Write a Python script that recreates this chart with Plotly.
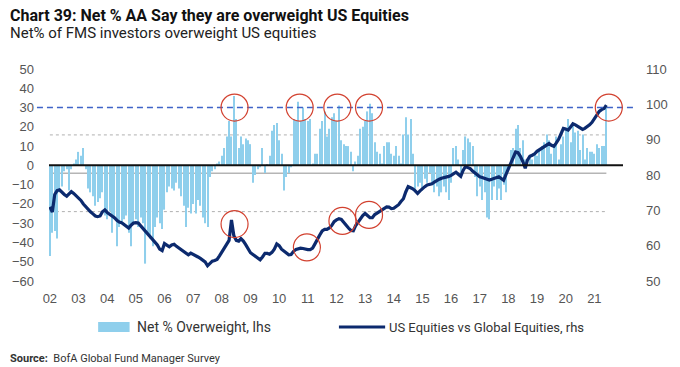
import pandas as pd
import plotly.graph_objects as go

# ---- data (monthly, Jul-2002 .. Dec-2021) ----
net_overweight = [
    -47, -35, -34, -38, -14, -11,
    -3, -2, -13, -2, 1, 3, 7, 5, 9, -2, -12, -14,
    -16, -21, -19, -17, -14, -26, -28, -24, -35, -28, -42, -32,
    -29, -28, -26, -35, -42, -30, -28, -32, -27, -30, -51, -35,
    -38, -42, -32, -27, -30, -33, -23, -14, -11, -12, -13, -9,
    -12, -16, -21, -32, -22, -25, -20, -25, -18, -21, -27, -30,
    -32, -6, -3, -2, 1, 2, 5, 9, 15, 23, 15, 36,
    24, 9, 15, 11, 14, 13, 11, -9, -5, -2, -1, 9,
    -4, 0.5, 5, 18, 21, 22, 13, 6, -13, -6, -4, -1,
    24, 23, 33, 23, 30, 24, 23, 24, 1, 6, 6, 19,
    23, 28, 15, 19, 25, 27, 23, 31, 13, 11, 10, 10,
    7, -3, 2, 5, 19, 20, 23, 28, 32, 27, 12, 7,
    6, 1, 10, 12, 12, 6, 5, 10, 5, 1, 16, 25,
    16, 24, 6, -14, -11, -9, -13, -7, -9, -4, -10, -14,
    -11, -16, -14, -11, -14, -18, -9, 9, 10, 3, -4, 8,
    15, 14, 12, 10, -6, -16, -11, -18, -14, -27, -28, -18,
    -11, -18, -12, -18, -10, -14, -2, 8, 9, 19, 21, 9,
    13, 3, 0.5, 5, 3, 6, 5, 8, 10, 12, 16, 13,
    6, 11, 15, 3, 11, 15, 19, 24, 12, 21, 17, 18,
    8, 16, 3, 9, 7, 7, 6, 11, 9, 10, 10, 31,
]

us_vs_global = [
    71.0, 69.5, 74.5, 75.6, 75.8, 75.0,
    74.5, 74.0, 74.6, 75.3, 74.8, 74.2, 73.5, 72.8, 71.8, 71.0, 70.3, 69.6,
    69.0, 68.4, 68.2, 68.4, 69.6, 70.1, 69.4, 68.9, 68.5, 67.9, 67.2, 66.7,
    66.5, 66.0, 65.4, 65.0, 65.8, 66.4, 66.5, 66.4, 65.6, 64.8, 64.2, 63.5,
    62.5, 61.6, 60.9, 60.2, 59.0, 58.6, 60.6, 60.0, 59.7, 60.2, 60.4, 59.8,
    59.3, 58.8, 58.3, 57.9, 57.4, 57.9, 57.6, 57.3, 56.8, 56.4, 55.9, 55.4,
    54.3, 55.0, 55.6, 55.8, 56.1, 57.1, 58.1, 59.2, 60.4, 61.5, 67.3, 62.8,
    61.5, 61.3, 62.0, 61.3, 60.3, 59.1, 58.0, 57.5, 57.0, 56.5, 56.0, 56.8,
    57.8, 57.8, 57.6, 58.1, 59.0, 60.5, 60.0, 59.0, 58.5, 58.0, 57.4, 57.5,
    58.4, 58.9, 59.1, 59.3, 59.2, 59.0, 58.9, 58.9, 59.3, 60.5, 62.0, 63.0,
    64.2, 64.6, 64.6, 65.0, 65.7, 66.8, 67.3, 67.6, 67.4, 66.5, 65.7, 65.0,
    64.3, 64.2, 65.6, 66.6, 67.5, 68.5, 69.1, 68.5, 67.9, 67.9, 68.8, 69.2,
    69.6, 70.1, 70.5, 71.0, 70.9, 70.5, 70.6, 71.1, 71.6, 72.5, 73.3, 75.2,
    76.7, 76.4, 76.1, 75.5, 74.8, 75.5, 76.2, 76.7, 77.2, 77.3, 77.5, 78.0,
    78.5, 78.8, 79.1, 79.2, 79.4, 79.6, 79.9, 80.3, 80.8, 80.2, 79.6, 81.3,
    82.4, 82.1, 81.8, 81.1, 80.5, 80.0, 79.5, 79.3, 79.1, 78.8, 78.6, 78.8,
    79.1, 79.3, 79.5, 79.0, 78.5, 80.2, 81.9, 83.3, 85.0, 86.5, 86.3, 85.3,
    83.8, 81.9, 84.2, 85.3, 85.6, 86.0, 86.7, 87.2, 87.5, 88.0, 88.5, 88.9,
    88.4, 88.1, 89.0, 90.1, 91.6, 93.2, 93.0, 92.7, 93.6, 94.5, 94.2, 93.7,
    93.3, 92.9, 93.2, 93.6, 94.2, 94.9, 96.0, 97.2, 98.0, 98.5, 98.8, 99.8,
]

dates = pd.date_range("2002-07-01", periods=len(net_overweight), freq="MS")

year_ticks = [f"{y}-07-01" for y in range(2002, 2022)]
year_labels = [f"{y % 100:02d}" for y in range(2002, 2022)]

left_ticks = list(range(-60, 51, 10))
right_ticks = list(range(50, 111, 10))

mean_level = -4.1
band_upper = 15.8
band_lower = -24.0
threshold = 30

top_circles = ["2008-12-10", "2011-03-20", "2012-07-12", "2013-08-20", "2022-01-01"]
bottom_circles = [("2008-12-10", 66.1), ("2011-06-20", 59.5), ("2012-09-15", 67.0), ("2013-08-20", 68.7)]

BAR_C = "#8fcfec"
LINE_C = "#0c2a6e"
RED = "#d2412f"
FONT = "Roboto, Liberation Sans, sans-serif"
TICKF = "Liberation Sans, Arial, sans-serif"

fig = go.Figure()
fig.add_trace(go.Bar(x=dates, y=net_overweight, marker=dict(color=BAR_C, line_width=0),
                     name="Net % Overweight, lhs", yaxis="y"))
fig.add_trace(go.Scatter(x=dates, y=us_vs_global, mode="lines",
                         line=dict(color=LINE_C, width=3.2), name="US Equities vs Global Equities, rhs",
                         yaxis="y2"))

shapes = []
shapes.append(dict(type="line", xref="x", yref="y", x0=dates[0], x1=dates[-1], y0=mean_level, y1=mean_level,
                   line=dict(color="#b5b5b5", width=1.5), layer="below"))
for lvl in (band_upper, band_lower):
    shapes.append(dict(type="line", xref="x", yref="y", x0=dates[0], x1=dates[-1], y0=lvl, y1=lvl,
                       line=dict(color="#b0b0b0", width=1, dash="3px,3px"), layer="below"))
shapes.append(dict(type="line", xref="paper", yref="y", x0=0, x1=1, y0=0, y1=0,
                   line=dict(color="#111111", width=2), layer="above"))
shapes.append(dict(type="line", xref="paper", yref="y", x0=-0.021, x1=1.024, y0=threshold, y1=threshold,
                   line=dict(color="#3e63c8", width=1.5, dash="6px,4px"), layer="above"))
R = 13.5
for d in top_circles:
    shapes.append(dict(type="circle", xref="x", yref="y", xsizemode="pixel", ysizemode="pixel",
                       xanchor=d, yanchor=threshold, x0=-R, x1=R, y0=-R, y1=R,
                       line=dict(color=RED, width=1.2), layer="above"))
for d, v in bottom_circles:
    shapes.append(dict(type="circle", xref="x", yref="y2", xsizemode="pixel", ysizemode="pixel",
                       xanchor=d, yanchor=v, x0=-R, x1=R, y0=-R, y1=R,
                       line=dict(color=RED, width=1.2), layer="above"))
shapes.append(dict(type="rect", xref="paper", yref="paper", x0=0.0856, x1=0.1404, y0=-0.2406, y1=-0.1934,
                   fillcolor=BAR_C, line_width=0))
shapes.append(dict(type="line", xref="paper", yref="paper", x0=0.5051, x1=0.5856, y0=-0.217, y1=-0.217,
                   line=dict(color=LINE_C, width=3)))

annotations = [
    dict(text="<b>Chart 39: Net % AA Say they are overweight US Equities</b>", xref="paper", yref="paper",
         x=-0.0719, y=1.2547, xanchor="left", yanchor="middle", showarrow=False,
         font=dict(family=FONT, size=16, color="#111111")),
    dict(text="Net% of FMS investors overweight US equities", xref="paper", yref="paper",
         x=-0.0719, y=1.1698, xanchor="left", yanchor="middle", showarrow=False,
         font=dict(family=FONT, size=15, color="#222222")),
    dict(text="Net % Overweight, lhs", xref="paper", yref="paper", x=0.149, y=-0.217,
         xanchor="left", yanchor="middle", showarrow=False,
         font=dict(family=FONT, size=14, color="#333333")),
    dict(text="US Equities vs Global Equities, rhs", xref="paper", yref="paper", x=0.589, y=-0.217,
         xanchor="left", yanchor="middle", showarrow=False,
         font=dict(family=FONT, size=13, color="#333333")),
    dict(text="<b>Source:</b>  BofA Global Fund Manager Survey", xref="paper", yref="paper",
         x=-0.0719, y=-0.405, xanchor="left", yanchor="bottom", showarrow=False,
         font=dict(family=FONT, size=11, color="#333333")),
]

fig.update_layout(
    width=680, height=367,
    margin=dict(l=42, r=54, t=69, b=86, pad=0),
    paper_bgcolor="white", plot_bgcolor="white",
    showlegend=False, bargap=0.5,
    shapes=shapes, annotations=annotations,
    xaxis=dict(type="date", range=["2002-06-20", "2022-07-01"], tickvals=year_ticks, ticktext=year_labels,
               showgrid=False, zeroline=False, showline=False, ticks="",
               tickfont=dict(family=TICKF, size=13, color="#555555"), ticklabelstandoff=8),
    yaxis=dict(range=[-60, 50], tickvals=left_ticks, showgrid=False, zeroline=False, showline=False,
               ticks="", tickfont=dict(family=TICKF, size=13, color="#555555"), ticklabelstandoff=14),
    yaxis2=dict(range=[50, 110], tickvals=right_ticks, overlaying="y", side="right", showgrid=False,
                zeroline=False, showline=False, ticks="",
                tickfont=dict(family=TICKF, size=13, color="#555555"), ticklabelstandoff=22),
)

fig.write_html("out.html", config={"displayModeBar": False},
               post_script="document.body.style.margin='0';document.body.style.overflow='hidden';")
